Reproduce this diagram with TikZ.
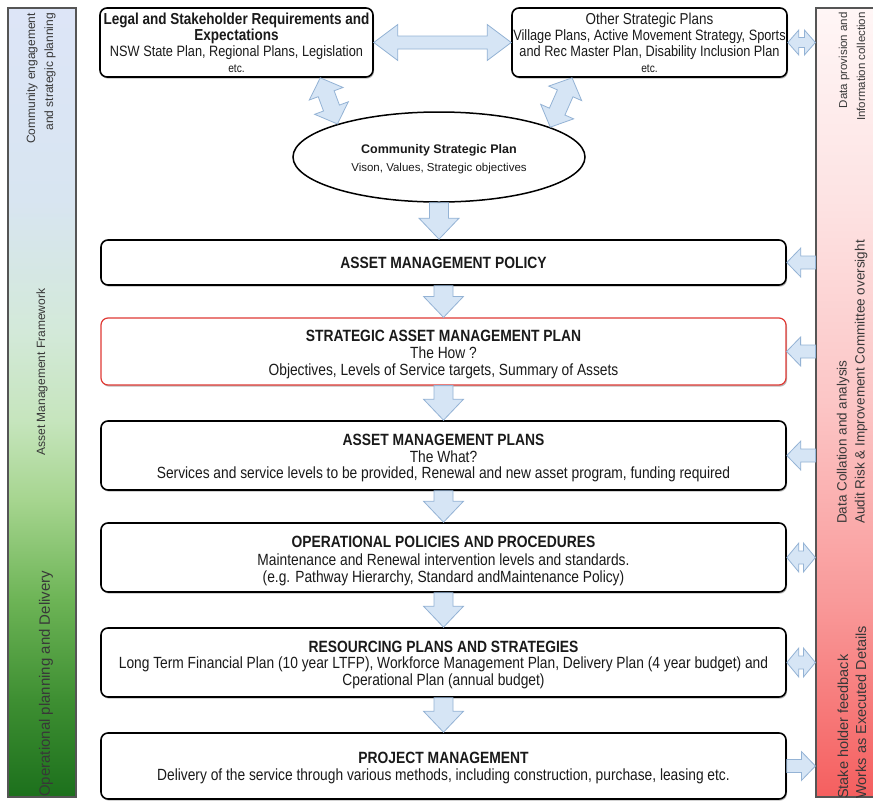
\documentclass[tikz,border=0pt]{standalone}
\usepackage{fontspec}
\setmainfont{Liberation Sans}
\newfontfamily\nar[FakeStretch=0.85]{Liberation Sans}
\usetikzlibrary{calc,shapes.geometric,shadows}

\definecolor{arrfill}{HTML}{D6E5F5}
\definecolor{arrdraw}{HTML}{94B3D5}
\definecolor{sampred}{HTML}{E03A35}
\definecolor{bartext}{HTML}{383838}
\definecolor{barline}{HTML}{555555}
\definecolor{boxtext}{HTML}{1A1A1A}

\definecolor{lb0}{HTML}{1C701C}
\definecolor{lb1}{HTML}{3E8F32}
\definecolor{lb2}{HTML}{6DB456}
\definecolor{lb3}{HTML}{A6D58F}
\definecolor{lb4}{HTML}{C6E5BD}
\definecolor{lb5}{HTML}{D3E9D9}
\definecolor{lb6}{HTML}{D8E5F1}
\definecolor{lb7}{HTML}{DDE5F7}

\definecolor{rb0}{HTML}{F55F5F}
\definecolor{rb1}{HTML}{F99A9A}
\definecolor{rb2}{HTML}{FCC6C6}
\definecolor{rb3}{HTML}{FDE3E3}
\definecolor{rb4}{HTML}{FFF6F6}

\pgfdeclareverticalshading{leftbarshade}{100bp}{color(0bp)=(lb0); color(25bp)=(lb0); color(31.15bp)=(lb1); color(37.5bp)=(lb2); color(43.8bp)=(lb3); color(48.85bp)=(lb4); color(54.5bp)=(lb5); color(62.85bp)=(lb6); color(75bp)=(lb7); color(100bp)=(lb7)}
\pgfdeclareverticalshading{rightbarshade}{100bp}{color(0bp)=(rb0); color(25bp)=(rb0); color(37.5bp)=(rb1); color(50.1bp)=(rb2); color(62.85bp)=(rb3); color(75bp)=(rb4); color(100bp)=(rb4)}

% geometry of a connector between two points
\newcommand\arrowgeom[2]{%
  \path let \p1=(#1), \p2=(#2) in
    \pgfextra{%
      \pgfmathsetmacro\tmpang{atan2(\y2-\y1,\x2-\x1)}%
      \pgfmathsetmacro\tmplen{veclen(\x2-\x1,\y2-\y1)}%
      \xdef\bAang{\tmpang}\xdef\bAlen{\tmplen}%
      \xdef\bAx{\x1}\xdef\bAy{\y1}%
    };%
}
% single block arrow: shaft half width, head half width, head length, from, to
\newcommand\sarrow[5]{%
  \arrowgeom{#4}{#5}%
  \path[blockarr, shift={(\bAx,\bAy)}, rotate=\bAang]
    (0,#1) -- ({\bAlen-#3},#1) -- ({\bAlen-#3},#2) -- (\bAlen,0)
    -- ({\bAlen-#3},-#2) -- ({\bAlen-#3},-#1) -- (0,-#1) -- cycle;
}
% double block arrow
\newcommand\darrow[5]{%
  \arrowgeom{#4}{#5}%
  \path[blockarr, shift={(\bAx,\bAy)}, rotate=\bAang]
    (0,0) -- (#3,#2) -- (#3,#1) -- ({\bAlen-#3},#1) -- ({\bAlen-#3},#2) -- (\bAlen,0)
    -- ({\bAlen-#3},-#2) -- ({\bAlen-#3},-#1) -- (#3,-#1) -- (#3,-#2) -- cycle;
}

\newcommand\bodyfont{\nar\fontsize{16.2pt}{16.6pt}\selectfont}
\newcommand\ttl[1]{{\bfseries\fontsize{16.3pt}{16.6pt}\selectfont #1}}
\newcommand\topgap[1]{\rule{0pt}{#1}}

\begin{document}
\begin{tikzpicture}[x=1pt,y=-1pt,
  blockarr/.style={fill=arrfill, draw=arrdraw, line width=0.8pt, line join=miter},
  barbox/.style={draw=barline, line width=1.2pt, minimum width=#1, minimum height=789pt, inner sep=0pt},
  bartxt/.style={text=bartext, inner sep=0pt, rotate=90},
  roundbox/.style={draw=black, line width=1.6pt, rounded corners=7pt, fill=white, align=center,
     inner sep=1pt, text=boxtext,
     drop shadow={shadow xshift=1pt, shadow yshift=-1.6pt, opacity=0.45, fill=black!60}},
  topbox/.style={roundbox, minimum height=69pt, font=\nar\fontsize{15pt}{16pt}\selectfont},
  mainbox/.style={roundbox, minimum width=685pt, font=\bodyfont},
  cspnode/.style={ellipse, draw=black, line width=1.5pt, fill=white, minimum width=292pt,
     minimum height=90pt, inner sep=0pt, align=center, text=boxtext}
]
\useasboundingbox (0,0) rectangle (873,801);
\fill[white] (0,0) rectangle (873,801);

% side bars
\node[barbox=68pt, shading=leftbarshade] (lbar) at (42,402.5) {};
\node[barbox=64pt, shading=rightbarshade] (rbar) at (848,402.5) {};

\node[bartxt, anchor=east, align=right, font=\fontsize{12pt}{18pt}\selectfont] (lt1) at (41,13) {Community engagement\\and strategic planning};
\node[bartxt, anchor=center, font=\fontsize{12pt}{18pt}\selectfont] (lt2) at (42,372) {Asset Management Framework};
\node[bartxt, anchor=west, font=\fontsize{15pt}{18pt}\selectfont] (lt3) at (46,797) {Operational planning and Delivery};

\node[bartxt, anchor=east, align=right, font=\fontsize{11.5pt}{18pt}\selectfont] (rt1) at (852,12) {Data provision and\\Information collection};
\node[bartxt, anchor=west, align=left, font=\fontsize{13.5pt}{18pt}\selectfont] (rt2) at (852,524) {Data Collation and analysis\\Audit Risk \& Improvement Committee oversight};
\node[bartxt, anchor=west, align=left, font=\fontsize{14.5pt}{18pt}\selectfont] (rt3) at (852,799) {Stake holder feedback\\Works as Executed Details};

% top boxes
\node[topbox, minimum width=273pt] (legal) at (236.5,42.5)
  {{\bfseries\fontsize{15.9pt}{15.5pt}\selectfont Legal and Stakeholder Requirements and}\\{\bfseries\fontsize{15.9pt}{15.5pt}\selectfont Expectations}\\NSW State Plan, Regional Plans, Legislation\\{\fontsize{12pt}{14pt}\selectfont etc.}};
\node[topbox, minimum width=275pt] (other) at (649.5,42.5)
  {{\fontsize{15.8pt}{17pt}\selectfont Other Strategic Plans}\\Village Plans, Active Movement Strategy, Sports\\and Rec Master Plan, Disability Inclusion Plan\\{\fontsize{12pt}{14pt}\selectfont etc.}};

\node[cspnode] (csp) at (439,157)
  {\topgap{14pt}{\bfseries\fontsize{12.5pt}{15pt}\selectfont Community Strategic Plan}\\[6pt]{\fontsize{11.5pt}{13pt}\selectfont Vison, Values, Strategic objectives}};

% main column
\node[mainbox, minimum height=45pt] (pol) at (443.5,262.5) {\ttl{ASSET MANAGEMENT POLICY}};
\node[mainbox, minimum height=67pt, draw=sampred, line width=1.2pt] (samp) at (443.5,351.5)
  {\topgap{17.5pt}\ttl{STRATEGIC ASSET MANAGEMENT PLAN}\\The How ?\\Objectives, Levels of Service targets, Summary of Assets};
\node[mainbox, minimum height=69pt] (amp) at (443.5,455.5)
  {\topgap{17pt}\ttl{ASSET MANAGEMENT PLANS}\\The What?\\Services and service levels to be provided, Renewal and new asset program, funding required};
\node[mainbox, minimum height=69pt, font=\nar\fontsize{16.2pt}{17.4pt}\selectfont] (opp) at (443.5,557.5)
  {\topgap{18.5pt}\ttl{OPERATIONAL POLICIES AND PROCEDURES}\\Maintenance and Renewal intervention levels and standards.\\(e.g. Pathway Hierarchy, Standard andMaintenance Policy)};
\node[mainbox, minimum height=69pt] (rps) at (443.5,662.5)
  {\topgap{16pt}\ttl{RESOURCING PLANS AND STRATEGIES}\\Long Term Financial Plan (10 year LTFP), Workforce Management Plan, Delivery Plan (4 year budget) and\\Cperational Plan (annual budget)};
\node[mainbox, minimum height=66pt] (pm) at (443.5,766)
  {\topgap{15pt}\ttl{PROJECT MANAGEMENT}\\Delivery of the service through various methods, including construction, purchase, leasing etc.};

% connector end points
\coordinate (lgA) at ($(legal.south west)!0.805!(legal.south east)$);
\coordinate (otA) at ($(other.south west)!0.22!(other.south east)$);

% connectors
\darrow{6.5}{18}{24}{legal.east}{other.west}
\darrow{5}{12.5}{11}{other.east}{other.east -| rbar.west}
\darrow{8.5}{18}{17}{lgA}{csp.162}
\darrow{8.5}{18}{17}{otA}{csp.15}
\sarrow{9.5}{20}{21}{csp.south}{csp.south |- pol.north}
\sarrow{9.5}{20}{21}{pol.south}{samp.north}
\sarrow{9.5}{20}{21}{samp.south}{amp.north}
\sarrow{9.5}{20}{21}{amp.south}{opp.north}
\sarrow{9.5}{20}{21}{opp.south}{rps.north}
\sarrow{9.5}{20}{21}{rps.south}{pm.north}

\sarrow{6.5}{14.5}{14}{pol.east -| rbar.west}{pol.east}
\sarrow{6.5}{14.5}{14}{samp.east -| rbar.west}{samp.east}
\sarrow{6.5}{14.5}{14}{amp.east -| rbar.west}{amp.east}
\darrow{6.5}{14.5}{12}{opp.east}{opp.east -| rbar.west}
\darrow{6.5}{14.5}{12}{rps.east}{rps.east -| rbar.west}
\sarrow{6.5}{14.5}{14}{pm.east}{pm.east -| rbar.west}
\end{tikzpicture}
\end{document}
